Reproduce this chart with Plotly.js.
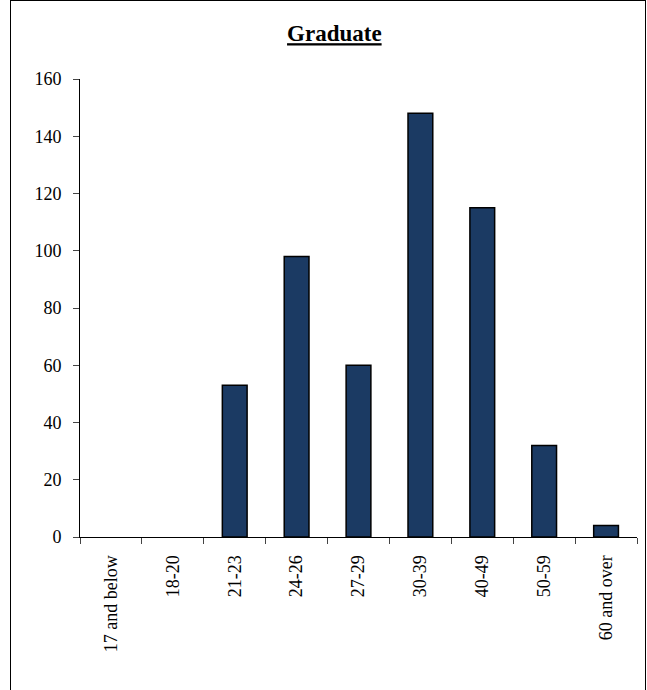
<!DOCTYPE html>
<html>
<head>
<script src="https://cdn.plot.ly/plotly-3.0.1.min.js"></script>
<style>
  body { margin: 0; background: #fff; }
  #chart { position: absolute; left: 10px; top: 0; width: 634px; height: 690px;
           border-left: 1px solid #000; border-top: 1px solid #000; border-right: 1px solid #000; }
</style>
</head>
<body>
<div id="chart"></div>
<script>
const categories = ['17 and below', '18-20', '21-23', '24-26', '27-29', '30-39', '40-49', '50-59', '60 and over']
const counts = [0, 0, 53, 98, 60, 148, 115, 32, 4]
const yTicks = [0, 20, 40, 60, 80, 100, 120, 140, 160]

const trace = {
  x: categories,
  y: counts.map(v => (v === 0 ? null : v)),
  type: 'bar',
  marker: { color: '#1b3a63', line: { color: '#000', width: 1.5 } },
  hoverinfo: 'none'
}

Plotly.newPlot('chart', [trace], {
  width: 634,
  height: 689,
  margin: { l: 69, r: 8, t: 78, b: 153 },
  bargap: 0.6,
  font: { family: 'Liberation Serif', size: 18, color: '#000' },
  title: { text: '<b><u>Graduate</u></b>', font: { size: 23 }, x: 0.51, y: 0.965, xanchor: 'center' },
  xaxis: {
    type: 'category',
    tickangle: -90,
    ticks: 'outside',
    tickson: 'boundaries',
    ticklen: 6,
    ticklabelstandoff: 10,
    showline: true,
    linecolor: '#000',
    showgrid: false
  },
  yaxis: {
    range: [0, 160],
    tickvals: yTicks,
    ticks: 'outside',
    ticklen: 6,
    ticklabelstandoff: 8,
    showline: true,
    linecolor: '#000',
    showgrid: false,
    zeroline: false
  },
  plot_bgcolor: '#fff',
  paper_bgcolor: '#fff'
}, { staticPlot: true })
</script>
</body>
</html>
